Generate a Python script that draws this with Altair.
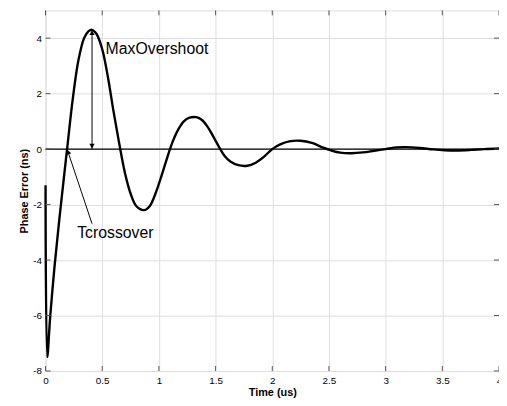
import altair as alt
import pandas as pd

# Curve values (time in us, phase error in ns)
t_vals = [0.0, 0.015, 0.04, 0.08, 0.12, 0.16, 0.19, 0.24, 0.29, 0.34, 0.38, 0.41, 0.45, 0.50,
          0.55, 0.60, 0.65, 0.70, 0.75, 0.80, 0.87, 0.92, 0.97, 1.02, 1.07, 1.12, 1.17, 1.22,
          1.27, 1.33, 1.38, 1.43, 1.48, 1.53, 1.58, 1.63, 1.70, 1.78, 1.85, 1.92, 2.00, 2.07,
          2.15, 2.25, 2.35, 2.45, 2.52, 2.60, 2.70, 2.80, 2.90, 3.00, 3.10, 3.18, 3.30, 3.42,
          3.52, 3.62, 3.75, 3.87, 4.0]
err_vals = [-1.3, -7.5, -6.1, -4.2, -2.6, -1.1, 0.0, 1.8, 3.2, 4.0, 4.25, 4.3, 4.15, 3.6,
            2.6, 1.35, 0.2, -0.85, -1.6, -2.05, -2.2, -2.05, -1.6, -1.0, -0.35, 0.25, 0.7, 1.0,
            1.13, 1.15, 1.05, 0.8, 0.45, 0.08, -0.25, -0.45, -0.58, -0.6, -0.5, -0.3, 0.0, 0.17,
            0.28, 0.3, 0.22, 0.05, -0.05, -0.13, -0.15, -0.12, -0.06, 0.0, 0.06, 0.07, 0.04, -0.01,
            -0.04, -0.05, -0.03, 0.0, 0.02]

x_ticks = [0, 0.5, 1, 1.5, 2, 2.5, 3, 3.5, 4]
y_ticks = [-8, -6, -4, -2, 0, 2, 4]

x_domain = [0, 4]
y_domain = [-8, 5]

# Annotations
overshoot_t = [0.41]
overshoot_lo = [0.0]
overshoot_hi = [4.3]
cross_t = [0.19]
cross_y = [0.0]
cross_from_t = [0.41]
cross_from_y = [-2.69]
label_text = ["MaxOvershoot", "Tcrossover"]
label_t = [0.53, 0.616]
label_y = [3.6, -3.04]

W, H = 459, 365
FONT = "Liberation Sans"

curve_df = pd.DataFrame({"t": t_vals, "e": err_vals})

xs = alt.Scale(domain=x_domain, nice=False, zero=False)
ys = alt.Scale(domain=y_domain, nice=False, zero=False)

xaxis = alt.Axis(values=x_ticks, title="Time (us)", grid=True, ticks=False, domain=False,
                 labelPadding=5, titlePadding=1, labelFlush=False,
                 labelExpr="toString(datum.value)")
yaxis = alt.Axis(values=y_ticks, title="Phase Error (ns)", grid=True, ticks=False, domain=False,
                 labelPadding=4, titlePadding=3, labelExpr="toString(datum.value)")

curve = alt.Chart(curve_df).mark_line(color="black", strokeWidth=2.4,
                                      interpolate="catmull-rom").encode(
    x=alt.X("t:Q", scale=xs, axis=xaxis),
    y=alt.Y("e:Q", scale=ys, axis=yaxis),
)

zero_df = pd.DataFrame({"x0": [x_domain[0]], "x1": [x_domain[1]], "y": [0.0]})
zero = alt.Chart(zero_df).mark_rule(color="black", strokeWidth=1.3).encode(
    x=alt.X("x0:Q", scale=xs), x2="x1:Q", y=alt.Y("y:Q", scale=ys)
)

# inward tick marks (MATLAB style)
tlen_x = 5 / H * (y_domain[1] - y_domain[0])
tlen_y = 5 / W * (x_domain[1] - x_domain[0])
xt_df = pd.DataFrame({
    "x": x_ticks * 2,
    "y0": [y_domain[0]] * len(x_ticks) + [y_domain[1]] * len(x_ticks),
    "y1": [y_domain[0] + tlen_x] * len(x_ticks) + [y_domain[1] - tlen_x] * len(x_ticks),
})
yt_df = pd.DataFrame({
    "y": y_ticks * 2,
    "x0": [x_domain[0]] * len(y_ticks) + [x_domain[1]] * len(y_ticks),
    "x1": [x_domain[0] + tlen_y] * len(y_ticks) + [x_domain[1] - tlen_y] * len(y_ticks),
})
xt = alt.Chart(xt_df).mark_rule(color="#555", strokeWidth=1).encode(
    x=alt.X("x:Q", scale=xs), y=alt.Y("y0:Q", scale=ys), y2="y1:Q")
yt = alt.Chart(yt_df).mark_rule(color="#555", strokeWidth=1).encode(
    y=alt.Y("y:Q", scale=ys), x=alt.X("x0:Q", scale=xs), x2="x1:Q")

# MaxOvershoot double arrow
ov_df = pd.DataFrame({"t": overshoot_t, "lo": overshoot_lo, "hi": overshoot_hi})
ov_line = alt.Chart(ov_df).mark_rule(color="black", strokeWidth=1).encode(
    x=alt.X("t:Q", scale=xs), y=alt.Y("lo:Q", scale=ys), y2="hi:Q")
ov_top = alt.Chart(ov_df).mark_point(shape="triangle-up", filled=True, color="black",
                                      size=28, yOffset=3, opacity=1).encode(
    x=alt.X("t:Q", scale=xs), y=alt.Y("hi:Q", scale=ys))
ov_bot = alt.Chart(ov_df).mark_point(shape="triangle-down", filled=True, color="black",
                                      size=28, yOffset=-3, opacity=1).encode(
    x=alt.X("t:Q", scale=xs), y=alt.Y("lo:Q", scale=ys))

# Tcrossover arrow
cr_df = pd.DataFrame({"t0": cross_from_t, "y0": cross_from_y, "t1": cross_t, "y1": cross_y})
cr_line = alt.Chart(cr_df).mark_rule(color="black", strokeWidth=1).encode(
    x=alt.X("t0:Q", scale=xs), y=alt.Y("y0:Q", scale=ys), x2="t1:Q", y2="y1:Q")
cr_head = alt.Chart(cr_df).mark_point(shape="triangle-up", filled=True, color="black",
                                       size=28, angle=339, xOffset=1, yOffset=3, opacity=1).encode(
    x=alt.X("t1:Q", scale=xs), y=alt.Y("y1:Q", scale=ys))

lab_df = pd.DataFrame({"text": label_text, "t": label_t, "y": label_y})
lab1 = alt.Chart(lab_df.iloc[[0]]).mark_text(font=FONT, fontSize=16, align="left",
                                               baseline="middle", color="black").encode(
    x=alt.X("t:Q", scale=xs), y=alt.Y("y:Q", scale=ys), text="text:N")
lab2 = alt.Chart(lab_df.iloc[[1]]).mark_text(font=FONT, fontSize=16, align="center",
                                               baseline="middle", color="black").encode(
    x=alt.X("t:Q", scale=xs), y=alt.Y("y:Q", scale=ys), text="text:N")

chart = alt.layer(curve, zero, xt, yt, ov_line, ov_top, ov_bot, cr_line, cr_head, lab1, lab2).properties(
    width=W, height=H,
    autosize=alt.AutoSizeParams(type="none"),
    padding={"left": 38, "top": 0, "right": 0, "bottom": 33},
).configure_view(
    stroke="#222", strokeWidth=1
).configure_axis(
    labelFont=FONT, labelFontSize=12, labelFontWeight="bold", labelColor="black",
    titleFont=FONT, titleFontSize=12, titleFontWeight="bold", titleColor="black",
    gridColor="#999999", gridDash=[1, 2], gridWidth=1, gridOpacity=1,
).configure(background="white")

chart.save("out.html", embed_options={"renderer": "svg", "actions": False})
